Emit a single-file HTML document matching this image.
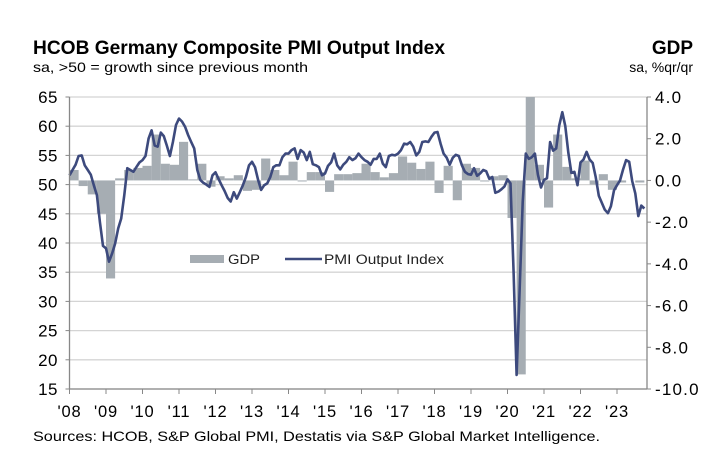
<!DOCTYPE html>
<html><head><meta charset="utf-8"><style>
body{margin:0;background:#fff;}
svg{display:block;font-family:"Liberation Sans",Arial,sans-serif;}
</style></head><body>
<svg id="chart" width="712" height="476" viewBox="0 0 712 476">
<text x="33" y="54" font-size="19" font-weight="bold" fill="#000" textLength="412" lengthAdjust="spacingAndGlyphs">HCOB Germany Composite PMI Output Index</text>
<text x="33" y="72" font-size="14" fill="#000" textLength="275" lengthAdjust="spacingAndGlyphs">sa, &gt;50 = growth since previous month</text>
<text x="693" y="54" font-size="19" font-weight="bold" text-anchor="end">GDP</text>
<text x="693" y="72" font-size="14" text-anchor="end">sa, %qr/qr</text>
<text x="33" y="441" font-size="14" textLength="567" lengthAdjust="spacingAndGlyphs">Sources: HCOB, S&amp;P Global PMI, Destatis via S&amp;P Global Market Intelligence.</text>
<defs><clipPath id="plotclip"><rect x="69" y="97" width="579" height="292"/></clipPath></defs>
<g id="grid"></g><g id="bars" clip-path="url(#plotclip)"></g><g id="line"></g><g id="axes"></g>
<g>
<rect x="190" y="255" width="34" height="8" fill="#a6adb3"/>
<text x="228" y="264" font-size="13.5" fill="#222" textLength="32" lengthAdjust="spacingAndGlyphs">GDP</text>
<line x1="285" y1="259" x2="322" y2="259" stroke="#3d4a7d" stroke-width="2.6"/>
<text x="324" y="264" font-size="13.5" fill="#222" textLength="120" lengthAdjust="spacingAndGlyphs">PMI Output Index</text>
</g>
</svg>
<script>
const leftTicks=[65,60,55,50,45,40,35,30,25,20,15];
const rightTicks=["4.0","2.0","0.0","-2.0","-4.0","-6.0","-8.0","-10.0"];
const yearLabels=["'08","'09","'10","'11","'12","'13","'14","'15","'16","'17","'18","'19","'20","'21","'22","'23"];
const gdp=[0.5,-0.27,-0.67,-1.6,-4.7,0.1,0.5,0.6,0.7,2.2,0.8,0.75,1.85,0.05,0.8,-0.3,
0.2,0.1,0.25,-0.5,-0.45,1.05,0.5,0.25,0.9,-0.05,0.4,0.4,-0.55,0.3,0.3,0.35,
0.8,0.4,0.15,0.35,1.15,0.85,0.55,0.9,-0.6,0.7,-0.95,0.8,0.6,-0.05,0.2,0.25,
-1.8,-9.3,8.9,0.75,-1.3,2.2,0.65,0.1,0.95,-0.2,0.3,-0.45,-0.1,0.0,-0.1];
const pmi=[51.6,52.5,53.4,54.9,55.0,53.3,52.5,51.7,49.9,48.2,43.6,39.5,
39.1,36.8,38.2,39.9,42.5,44.2,48.2,52.8,52.5,52.2,53.0,53.8,
54.2,54.9,57.9,59.3,56.7,56.5,58.9,58.3,56.7,54.9,57.3,60.2,
61.3,60.8,59.9,58.5,57.3,56.2,52.5,50.8,50.3,50.0,49.6,51.6,
52.1,51.0,49.9,48.9,47.7,47.1,48.7,47.6,48.7,49.9,51.3,53.3,
53.9,53.0,50.8,49.1,49.9,50.2,51.3,53.0,53.3,53.3,54.7,55.3,
55.3,55.9,56.2,54.4,55.9,55.5,54.2,55.6,53.5,53.3,53.0,51.6,
51.9,53.2,53.8,55.3,53.3,52.6,53.4,53.9,54.7,54.2,54.5,55.3,
54.7,54.2,53.9,53.4,54.4,54.4,55.3,53.6,53.0,54.9,55.1,55.0,
55.3,55.9,57.0,56.9,57.3,56.5,55.0,55.6,57.3,57.4,57.3,58.2,
58.9,59.0,57.0,55.3,54.6,53.4,54.6,55.1,54.9,53.3,52.2,51.8,
51.7,52.8,51.5,51.9,52.5,52.3,51.0,51.3,48.6,48.8,49.2,49.7,
50.9,50.2,35.0,17.4,32.3,47.0,55.3,54.4,54.7,55.3,51.7,49.5,
50.8,51.1,57.3,55.8,56.2,60.1,62.4,60.0,55.5,52.0,52.2,49.9,
53.8,54.3,55.6,54.3,53.7,51.3,48.1,46.9,45.7,45.1,46.3,49.0,
49.9,50.7,52.6,54.2,53.9,50.6,48.5,44.6,46.4,45.9];
const X0=69.5,X1=647,YT=97,YB=389,YEARW=36.5;
const xm=m=>X0+m*YEARW/12;
const yL=v=>YT+(65-v)*(YB-YT)/50;
const yR=v=>YT+(4-v)*(YB-YT)/14;
const NS="http://www.w3.org/2000/svg";
function mk(tag,attrs,parent){const e=document.createElementNS(NS,tag);for(const k in attrs)e.setAttribute(k,attrs[k]);parent.appendChild(e);return e;}
const grid=document.getElementById('grid'),bars=document.getElementById('bars'),lineG=document.getElementById('line'),axes=document.getElementById('axes');
leftTicks.forEach(v=>{
 const g=mk('line',{x1:X0,x2:X1,y1:yL(v),y2:yL(v),stroke:'#d4d4d4','stroke-width':1.3},grid);
 
 
 const t=mk('text',{x:58,y:yL(v)+6,'font-size':17,'letter-spacing':0.5,'text-anchor':'end',fill:'#000'},axes);
 t.textContent=v;
 
 
 const tk=mk('line',{x1:X0-4,x2:X0,y1:yL(v),y2:yL(v),stroke:'#888'},axes);
 
 
});
rightTicks.forEach(s=>{
 const v=parseFloat(s);
 const t=mk('text',{x:655,y:yR(v)+6,'font-size':17,'letter-spacing':1.2,fill:'#000'},axes);
 t.textContent=s;
 
 
 const tk=mk('line',{x1:X1,x2:X1+4,y1:yR(v),y2:yR(v),stroke:'#888'},axes);
 
 
});
yearLabels.forEach((s,i)=>{
 const x=X0+i*YEARW;
 const t=mk('text',{x:x,y:417,'font-size':16.5,'letter-spacing':0.8,'text-anchor':'middle',fill:'#000'},axes);
 t.textContent=s;
 
 
 const tk=mk('line',{x1:x,x2:x,y1:YB,y2:YB+5,stroke:'#888'},axes);
 
 
});
const a1=mk('line',{x1:X0,x2:X0,y1:YT,y2:YB,stroke:'#888','stroke-width':1.3},axes);


const a2=mk('line',{x1:X1,x2:X1,y1:YT,y2:YB,stroke:'#888','stroke-width':1.3},axes);


const a3=mk('line',{x1:X0,x2:X1,y1:YB,y2:YB,stroke:'#888','stroke-width':1.3},axes);


gdp.forEach((v,i)=>{
 const x=xm(i*3),w=YEARW/4;
 const y0=yR(0),y1=yR(v);
 const r=mk('rect',{x:x,y:Math.min(y0,y1),width:w,height:Math.abs(y1-y0),fill:'#a6adb3'},bars);
 
 
});
const pts=pmi.map((v,i)=>xm(i).toFixed(1)+','+yL(v).toFixed(1)).join(' ');
const pl=mk('polyline',{points:pts,fill:'none',stroke:'#3d4a7d','stroke-width':2.6,'stroke-linejoin':'round'},lineG);


</script>
</body></html>
